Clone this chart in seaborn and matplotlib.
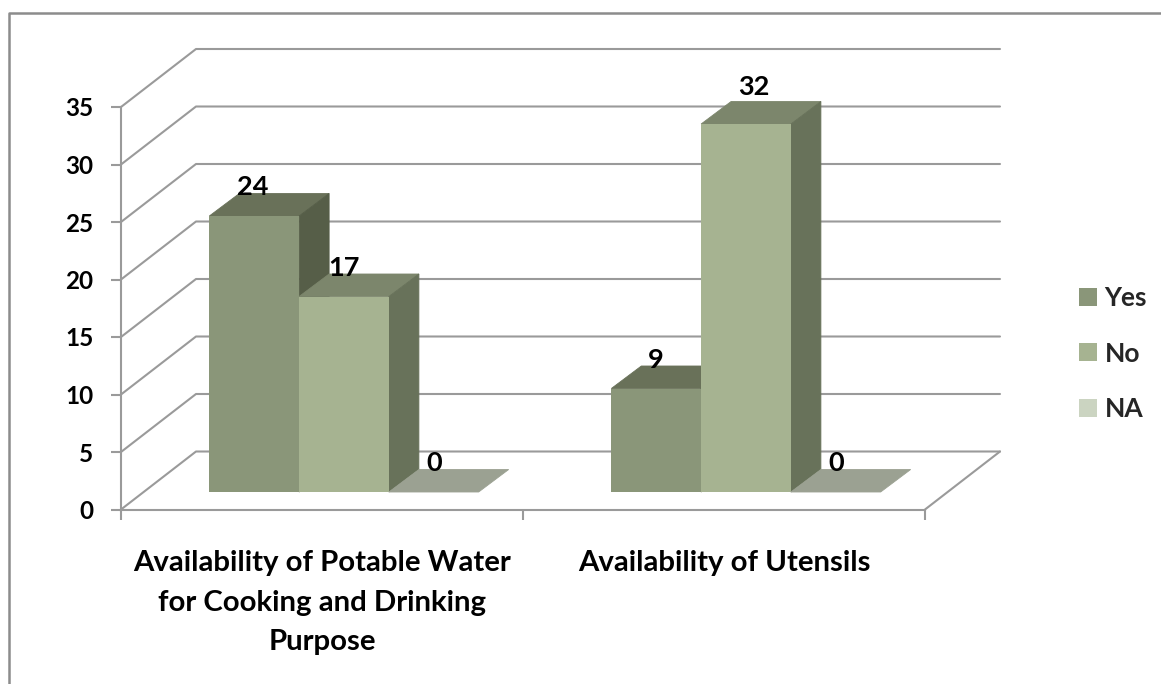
import pandas as pd
import matplotlib
matplotlib.use('Agg')
import matplotlib.pyplot as plt
from matplotlib.lines import Line2D
from matplotlib.patches import Polygon
import seaborn as sns

categories = ['Availability of Potable Water\nfor Cooking and Drinking\nPurpose', 'Availability of Utensils']
series_names = ['Yes', 'No', 'NA']
yes_values = [24, 9]
no_values = [17, 32]
na_values = [0, 0]
y_ticks = [0, 5, 10, 15, 20, 25, 30, 35]

front_colors = ['#8A9679', '#A6B391', '#CBD4C1']
top_colors = ['#697159', '#7C866C', '#9BA192']
side_colors = ['#565E48', '#68725A', '#7F8875']
grid_color = '#9A9A9A'

W, H = 1161, 684

sns.set_theme(style='white')
plt.rcParams['font.family'] = ['Lato', 'DejaVu Sans']
plt.rcParams['font.weight'] = 'bold'

df = pd.DataFrame({
    'category': categories * 3,
    'series': [s for s in series_names for _ in categories],
    'value': yes_values + no_values + na_values,
})

fig = plt.figure(figsize=(W / 100, H / 100), dpi=100)
ax = fig.add_axes([121 / W, (H - 509.5) / H, 804 / W, 402.5 / H])

sns.barplot(data=df, x='category', y='value', hue='series', hue_order=series_names,
            palette=front_colors, saturation=1, width=0.67, gap=0, linewidth=0, ax=ax)
ax.set_xlim(-0.5, 1.5)
ax.set_ylim(0, 35)

# pixels to data units, the fake 3d is all done with these
px_x = 2 / 804
px_y = 35 / 402.5

# back wall and floor
wall_dx, wall_dy = 75 * px_x, 58 * px_y
for v in y_ticks:
    ax.plot([-0.5, -0.5 + wall_dx, 1.5 + wall_dx], [v, v + wall_dy, v + wall_dy],
            color=grid_color, lw=1.5, clip_on=False, zorder=0.5)
ax.plot([1.5, 1.5 + wall_dx], [0, wall_dy], color=grid_color, lw=1.5, clip_on=False, zorder=0.5)

# bars sit part way back on the floor
shift_x, shift_y = 22 * px_x, 17.5 * px_y
depth_x, depth_y = 30 * px_x, 22.5 * px_y
label_nudge = {(1, 1): (8, 8), (0, 0): (-1, 0)}

for i, cont in enumerate(ax.containers):
    for j, bar in enumerate(cont):
        bar.set_x(bar.get_x() + shift_x)
        bar.set_y(shift_y)
        bar.set_clip_on(False)
        # front face above its own top and side, their edges close the seams
        bar.set_zorder(3.5 + i)
        x0 = bar.get_x()
        x1 = x0 + bar.get_width()
        y0 = bar.get_y()
        y1 = y0 + bar.get_height()
        ax.add_patch(Polygon([(x0, y1), (x1, y1), (x1 + depth_x, y1 + depth_y), (x0 + depth_x, y1 + depth_y)],
                             closed=True, fc=top_colors[i], ec=top_colors[i], lw=0.6, clip_on=False, zorder=3 + i))
        if bar.get_height() > 0:
            ax.add_patch(Polygon([(x1, y0), (x1 + depth_x, y0 + depth_y), (x1 + depth_x, y1 + depth_y), (x1, y1)],
                                 closed=True, fc=side_colors[i], ec=side_colors[i], lw=0.6, clip_on=False, zorder=3 + i))
        nx, ny = label_nudge.get((i, j), (0, 0))
        ax.text((x0 + x1) / 2 + nx * px_x, y1 + (29 + ny) * px_y, str(int(bar.get_height())),
                ha='center', va='center', fontsize=19.5, color='black', zorder=10, clip_on=False)

# category ticks go on the boundaries, labels on the minor ticks
ax.set_xticks([-0.5, 0.5, 1.5])
ax.set_xticklabels([])
ax.set_xticks([0, 1], minor=True)
ax.set_xticklabels(categories, minor=True, fontsize=21.2, color='black', linespacing=1.64, va='top')
ax.tick_params(axis='x', which='major', bottom=True, length=7, width=1.5, color=grid_color)
ax.tick_params(axis='x', which='minor', bottom=False, length=0, pad=29.5)
ax.set_yticks(y_ticks)
ax.tick_params(axis='y', left=True, length=7, width=1.5, color=grid_color, pad=13, labelsize=17.5, labelcolor='black')
ax.set_xlabel('')
ax.set_ylabel('')
ax.patch.set_alpha(0)
for side in ['top', 'right']:
    ax.spines[side].set_visible(False)
for side in ['left', 'bottom']:
    ax.spines[side].set_color(grid_color)
    ax.spines[side].set_linewidth(1.5)

sns.move_legend(ax, loc='center left', bbox_to_anchor=(1055 / W, (H - 353.5) / H),
                bbox_transform=fig.transFigure, title=None, frameon=False, fontsize=19,
                handlelength=0.68, handleheight=0.68, handletextpad=0.3, labelspacing=1.2)

# chart border, only top and left edges are in the picture
fig.add_artist(Line2D([8.5 / W, 8.5 / W, 1], [0, (H - 12.5) / H, (H - 12.5) / H],
                      color='#8C8C8C', lw=1.8, transform=fig.transFigure))

fig.savefig('out.png', dpi=100, facecolor='white')
